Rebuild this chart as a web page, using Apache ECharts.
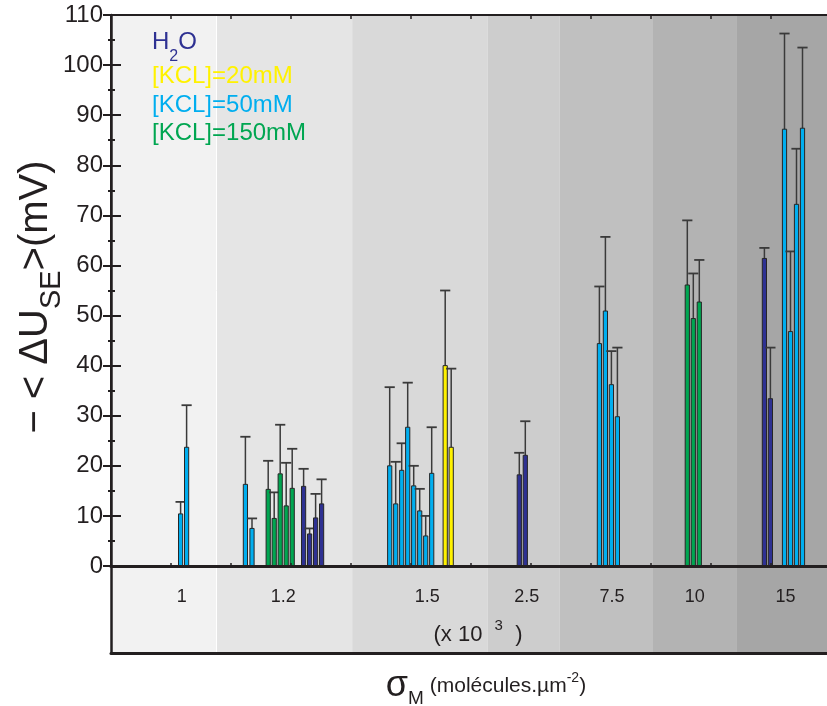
<!DOCTYPE html>
<html><head><meta charset="utf-8">
<script src="https://cdn.jsdelivr.net/npm/echarts@6/dist/echarts.min.js"></script>
<style>html,body{margin:0;padding:0;background:#fff}#chart{width:827px;height:706px}</style>
</head><body><div id="chart"></div>
<script>
// ---------- data ----------
const densityLabels = ['1', '1.2', '1.5', '2.5', '7.5', '10', '15'];
const densityLabelPos = [11.8, 28.7, 52.7, 69.3, 83.5, 97.3, 112.4];
const bandEdges = [0, 17.5, 40.2, 62.8, 74.8, 90.2, 104.2, 119.5];

const h2oX   = [32.1, 33.1, 34.1, 35.1, 68.05, 69.05, 108.9, 109.9];
const h2oVal = [15.9, 6.4, 9.6, 12.4, 18.2, 22.1, 61.4, 33.4];
const h2oErr = [19.4, 7.5, 14.4, 17.3, 22.6, 28.9, 63.5, 43.6];

const kcl20X   = [55.7, 56.7];
const kcl20Val = [40.0, 23.7];
const kcl20Err = [55.0, 39.4];

const kcl50X   = [11.6, 12.6, 22.4, 23.5, 46.45, 47.45, 48.45, 49.45, 50.45, 51.45, 52.45, 53.45, 81.4, 82.4, 83.4, 84.4, 112.25, 113.25, 114.25, 115.25];
const kcl50Val = [10.4, 23.7, 16.3, 7.5, 20.0, 12.4, 19.1, 27.7, 16.0, 11.0, 6.0, 18.5, 44.4, 50.9, 36.2, 29.8, 87.2, 46.8, 72.2, 87.4];
const kcl50Err = [12.8, 32.1, 25.8, 9.5, 35.7, 20.8, 24.5, 36.6, 20.0, 15.4, 10.0, 27.7, 55.8, 65.7, 42.9, 43.6, 106.3, 62.8, 83.3, 103.5];

const kcl150X   = [26.2, 27.2, 28.2, 29.2, 30.2, 96.05, 97.05, 98.05];
const kcl150Val = [15.3, 9.5, 18.4, 12.0, 15.5, 56.1, 49.4, 52.7];
const kcl150Err = [21.0, 14.7, 28.2, 20.6, 23.4, 69.0, 58.4, 61.1];

// ---------- styles ----------
const FONT = "'Liberation Sans', Arial, Helvetica, sans-serif";
const INK = '#231f20';
const bandColors = ['#f2f2f2', '#e5e5e5', '#d9d9d9', '#cdcdcd', '#c0c0c0', '#b3b3b3', '#a6a6a6'];
const C_H2O = '#2e3192', C_20 = '#fff200', C_50 = '#00aeef', C_150 = '#00a651';

function zip3(a, b, c) { return a.map((v, i) => [v, b[i], c[i]]); }
const bandData = bandColors.map((c, i) => [bandEdges[i], bandEdges[i + 1]]);

function bandRender(yLow, yHigh) {
  return function (params, api) {
    const p0 = api.coord([api.value(0), yHigh]);
    const p1 = api.coord([api.value(1), yLow]);
    const children = [{ type: 'rect', shape: { x: p0[0], y: p0[1], width: p1[0] - p0[0], height: p1[1] - p0[1] },
      style: { fill: bandColors[params.dataIndex] } }];
    if (params.dataIndex === 1) {
      children.push({ type: 'line', shape: { x1: p0[0] + 0.5, y1: p0[1], x2: p0[0] + 0.5, y2: p1[1] }, style: { stroke: '#ffffff', lineWidth: 1 } });
    }
    return { type: 'group', children: children };
  };
}

function barRender(color) {
  return function (params, api) {
    const x = api.value(0), v = api.value(1), e = api.value(2);
    const base = api.coord([x, 0]);
    const top = api.coord([x, v]);
    const err = api.coord([x, e]);
    const unit = api.size([1, 0])[0];
    const w = unit * 0.7, cap = unit * 0.85;
    return { type: 'group', children: [
      { type: 'line', shape: { x1: top[0], y1: top[1], x2: err[0], y2: err[1] }, style: { stroke: '#3a3a3a', lineWidth: 1.5 } },
      { type: 'line', shape: { x1: err[0] - cap, y1: err[1], x2: err[0] + cap, y2: err[1] }, style: { stroke: '#3a3a3a', lineWidth: 1.8 } },
      { type: 'rect', shape: { x: base[0] - w / 2, y: top[1], width: w, height: base[1] - top[1] }, style: { fill: color, stroke: '#262626', lineWidth: 1 } }
    ] };
  };
}

function barSeries(name, color, data) {
  return { name: name, type: 'custom', xAxisIndex: 0, yAxisIndex: 0, z: 3, clip: false,
    encode: { x: 0, y: [1, 2] }, renderItem: barRender(color), data: data };
}

const xBase = { type: 'value', min: 0, max: 119.5, interval: 10, splitLine: { show: false }, axisLabel: { show: false }, z: 5 };

const option = {
  animation: false,
  backgroundColor: '#ffffff',
  textStyle: { fontFamily: FONT },
  grid: [
    { left: 111, top: 15, width: 717, height: 551, outerBoundsMode: 'none' },
    { left: 111, top: 566, width: 717, height: 87, outerBoundsMode: 'none' }
  ],
  xAxis: [
    Object.assign({}, xBase, { gridIndex: 0, position: 'bottom',
      axisLine: { show: true, onZero: false, lineStyle: { color: INK, width: 3 } },
      axisTick: { show: true, inside: true, length: 3, lineStyle: { color: INK, width: 1.5 } } }),
    Object.assign({}, xBase, { gridIndex: 0, position: 'top',
      axisLine: { show: true, onZero: false, lineStyle: { color: INK, width: 2 } },
      axisTick: { show: true, inside: true, length: 4, lineStyle: { color: INK, width: 1.5 } } }),
    Object.assign({}, xBase, { gridIndex: 1, position: 'bottom',
      axisLine: { show: true, onZero: false, lineStyle: { color: INK, width: 3 } },
      axisTick: { show: false } }),
    Object.assign({}, xBase, { gridIndex: 1, position: 'top',
      axisLine: { show: false }, axisTick: { show: false },
      axisLabel: { show: true, inside: true, margin: 22, customValues: densityLabelPos,
        fontSize: 18, color: INK, fontFamily: FONT,
        formatter: function (v) {
          let best = 0;
          densityLabelPos.forEach((p, i) => { if (Math.abs(p - v) < Math.abs(densityLabelPos[best] - v)) best = i; });
          return densityLabels[best];
        } } })
  ],
  yAxis: [
    { gridIndex: 0, type: 'value', min: 0, max: 110, interval: 10, position: 'left', z: 5,
      axisLine: { show: true, lineStyle: { color: INK, width: 2.5 } },
      axisTick: { show: true, inside: true, length: 10, lineStyle: { color: INK, width: 2 } },
      minorTick: { show: true, splitNumber: 2, length: 4, lineStyle: { color: INK, width: 2 } },
      axisLabel: { show: true, fontSize: 24, margin: 8, color: INK, fontFamily: FONT },
      splitLine: { show: false } },
    { gridIndex: 0, type: 'value', min: 0, max: 110, interval: 10, position: 'right', z: 5,
      axisLine: { show: true, lineStyle: { color: INK, width: 2 } },
      axisTick: { show: true, inside: true, length: 8, lineStyle: { color: INK, width: 2 } },
      minorTick: { show: true, splitNumber: 2, length: 3, lineStyle: { color: INK, width: 2 } },
      axisLabel: { show: false }, splitLine: { show: false } },
    { gridIndex: 1, type: 'value', min: 0, max: 1, position: 'left', z: 5,
      axisLine: { show: true, lineStyle: { color: INK, width: 2.5 } },
      axisTick: { show: false }, axisLabel: { show: false }, splitLine: { show: false } }
  ],
  series: [
    { type: 'custom', xAxisIndex: 0, yAxisIndex: 0, z: 1, silent: true, clip: false,
      encode: { x: [0, 1] }, renderItem: bandRender(0, 110), data: bandData },
    { type: 'custom', xAxisIndex: 2, yAxisIndex: 2, z: 1, silent: true, clip: false,
      encode: { x: [0, 1] }, renderItem: bandRender(0, 1), data: bandData },
    barSeries('H2O', C_H2O, zip3(h2oX, h2oVal, h2oErr)),
    barSeries('[KCL]=20mM', C_20, zip3(kcl20X, kcl20Val, kcl20Err)),
    barSeries('[KCL]=50mM', C_50, zip3(kcl50X, kcl50Val, kcl50Err)),
    barSeries('[KCL]=150mM', C_150, zip3(kcl150X, kcl150Val, kcl150Err))
  ],
  graphic: [
    { type: 'text', x: 152, y: 42.5, z: 100, style: { text: '{a|H}{s|2}{a|O}', fill: C_H2O, align: 'left', verticalAlign: 'middle',
      rich: { a: { fontSize: 24, fontFamily: FONT, lineHeight: 44, verticalAlign: 'middle', fill: C_H2O },
              s: { fontSize: 16, fontFamily: FONT, lineHeight: 16, verticalAlign: 'bottom', fill: C_H2O } } } },
    { type: 'text', x: 152, y: 76, z: 100, style: { text: '[KCL]=20mM', fill: C_20, font: '24px ' + FONT, align: 'left', verticalAlign: 'middle' } },
    { type: 'text', x: 152, y: 105, z: 100, style: { text: '[KCL]=50mM', fill: C_50, font: '24px ' + FONT, align: 'left', verticalAlign: 'middle' } },
    { type: 'text', x: 152, y: 133.5, z: 100, style: { text: '[KCL]=150mM', fill: C_150, font: '24px ' + FONT, align: 'left', verticalAlign: 'middle' } },
    { type: 'text', x: 478, y: 635, z: 100, style: { text: '{a|(x 10  }{p|3}{a|  )}', fill: INK, align: 'center', verticalAlign: 'middle',
      rich: { a: { fontSize: 22, fontFamily: FONT, lineHeight: 40, verticalAlign: 'middle', fill: INK },
              p: { fontSize: 15, fontFamily: FONT, lineHeight: 15, verticalAlign: 'top', padding: [3, 0, 0, 0], fill: INK } } } },
    { type: 'text', x: 486, y: 686, z: 100, style: { text: '{s|σ}{m|M}{a| (molécules.µm}{p|-2}{a|)}', fill: INK, align: 'center', verticalAlign: 'middle',
      rich: { s: { fontSize: 36, fontFamily: FONT, lineHeight: 44, verticalAlign: 'middle', fill: INK },
              m: { fontSize: 19, fontFamily: FONT, lineHeight: 19, verticalAlign: 'bottom', fill: INK },
              a: { fontSize: 21, fontFamily: FONT, lineHeight: 44, verticalAlign: 'middle', fill: INK },
              p: { fontSize: 14, fontFamily: FONT, lineHeight: 14, verticalAlign: 'top', padding: [7, 0, 0, 0], fill: INK } } } },
    { type: 'text', x: 36, y: 297, rotation: Math.PI / 2, z: 100, style: { text: '{a|− < ΔU}{b|SE}{a|>(mV)}', fill: INK, align: 'center', verticalAlign: 'middle',
      rich: { a: { fontSize: 40, fontFamily: FONT, lineHeight: 60, verticalAlign: 'middle', fill: INK },
              b: { fontSize: 29, fontFamily: FONT, lineHeight: 29, verticalAlign: 'bottom', fill: INK } } } }
  ]
};

const chart = echarts.init(document.getElementById('chart'), null, { renderer: 'canvas' });
chart.setOption(option);
</script>
</body></html>
